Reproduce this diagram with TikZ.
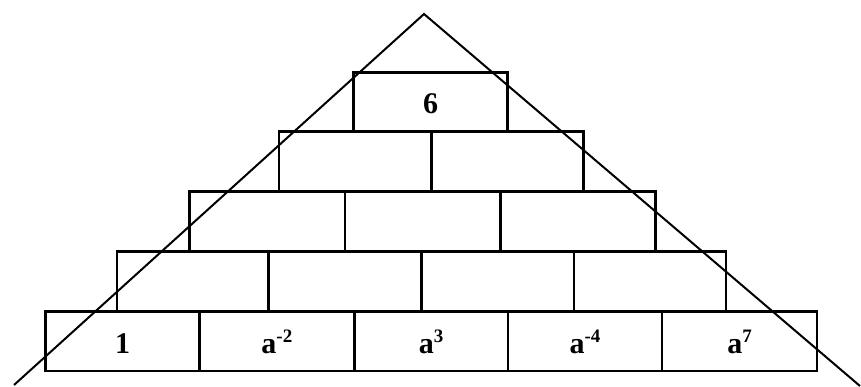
\documentclass[tikz,border=0pt]{standalone}
\usepackage{fontspec}
\setmainfont{Liberation Serif}
\newcommand\pyrsup[1]{\raisebox{10.5pt}{\fontsize{19}{19}\selectfont #1}}
\newcommand\pyrtxt[1]{{\bfseries\fontsize{30}{30}\selectfont #1}}
\begin{document}
\begin{tikzpicture}[x=1pt,y=-1pt,
  cell/.style={draw=black, line width=2.7pt, inner sep=0pt, outer sep=0pt,
    text height=24pt, text depth=0pt},
  side/.style={draw=black, line width=2pt}]
\useasboundingbox (0,0) rectangle (861,386);
% bottom row
\node[cell, minimum width=153.9pt, minimum height=59.4pt] (b1) at (122.55,341.3) {\pyrtxt{1}};
\node[cell, minimum width=154.7pt, minimum height=59.4pt] (b2) at (276.85,341.3) {\pyrtxt{a\pyrsup{-2}}};
\node[cell, minimum width=153.8pt, minimum height=59.4pt] (b3) at (431.1,341.3) {\pyrtxt{a\pyrsup{3}}};
\node[cell, minimum width=154pt, minimum height=59.4pt] (b4) at (585,341.3) {\pyrtxt{a\pyrsup{-4}}};
\node[cell, minimum width=155.1pt, minimum height=59.4pt] (b5) at (739.55,341.3) {\pyrtxt{a\pyrsup{7}}};
% second row
\node[cell, minimum width=151.5pt, minimum height=60pt] (c1) at (192.75,281.6) {};
\node[cell, minimum width=152.7pt, minimum height=60pt] (c2) at (344.85,281.6) {};
\node[cell, minimum width=152.7pt, minimum height=60pt] (c3) at (497.55,281.6) {};
\node[cell, minimum width=152.1pt, minimum height=60pt] (c4) at (649.95,281.6) {};
% third row
\node[cell, minimum width=155.4pt, minimum height=60pt] (d1) at (267.2,221.6) {};
\node[cell, minimum width=155.4pt, minimum height=60pt] (d2) at (422.6,221.6) {};
\node[cell, minimum width=155.4pt, minimum height=60pt] (d3) at (578,221.6) {};
% fourth row
\node[cell, minimum width=152.6pt, minimum height=60.3pt] (e1) at (355.3,161.45) {};
\node[cell, minimum width=152.1pt, minimum height=60.3pt] (e2) at (507.65,161.45) {};
% top
\node[cell, minimum width=154.4pt, minimum height=59pt] (f1) at (430.5,101.8) {\pyrtxt{6}};
% triangle sides
\coordinate (apex) at (424,14);
\coordinate (lend) at (14,385);
\coordinate (rend) at (860,386);
\draw[side] (lend) -- (apex) -- (rend);
\end{tikzpicture}
\end{document}
